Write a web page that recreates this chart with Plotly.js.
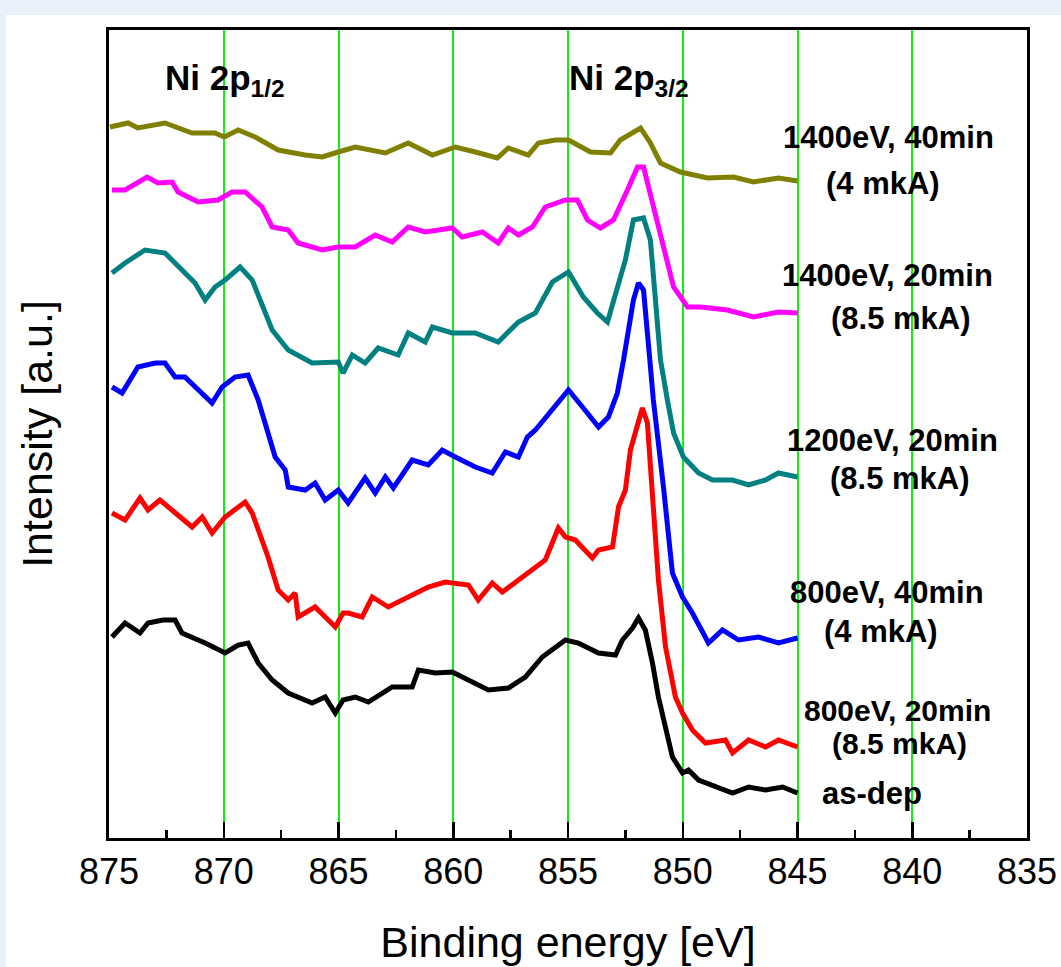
<!DOCTYPE html>
<html>
<head>
<meta charset="utf-8">
<script src="https://cdn.plot.ly/plotly-3.0.1.min.js"></script>
<style>html,body{margin:0;padding:0;background:#e8f0f9;}#chart{width:1061px;height:967px;}</style>
</head>
<body>
<div id="chart"></div>
<script>
// Binding energy [eV] and intensity [a.u.]
const olive_E = [874.96,874.17,873.74,872.56,871.38,870.38,869.98,869.37,868.63,867.63,866.45,865.71,865.01,864.27,862.96,861.96,860.91,859.91,859.04,858.08,857.60,856.73,856.29,855.55,854.98,854.02,853.15,852.72,851.84,851.41,850.97,850.10,848.92,847.79,846.92,845.83,845.00];
const olive_I = [711,715,710,715,705,705,701,708,701,688,683,681,686,691,685,695,683,691,686,680,690,683,695,698,698,686,685,698,710,695,675,666,660,661,656,660,657];

const magenta_E = [874.87,874.30,873.34,872.86,872.25,871.99,871.12,870.25,869.64,869.07,868.33,867.89,867.19,866.76,865.71,865.01,864.27,863.40,862.66,861.96,861.22,860.04,859.61,858.73,858.04,857.60,857.16,856.55,855.99,855.11,854.59,854.15,853.59,853.02,852.41,851.97,851.71,851.28,850.84,850.40,849.79,849.23,848.05,846.92,845.83,845.00];
const magenta_I = [648,648,661,655,656,646,636,638,646,646,631,611,608,595,588,591,591,603,596,611,606,610,601,606,595,610,603,611,631,638,638,618,610,618,648,671,671,631,591,551,531,531,528,521,526,525];

const teal_E = [874.87,874.30,873.43,872.56,871.82,871.25,870.81,870.38,869.94,869.29,868.76,868.28,867.89,867.19,866.15,865.01,864.80,864.40,863.84,863.27,862.40,861.96,861.22,860.91,860.04,859.04,858.04,857.16,856.42,855.68,854.98,854.33,853.72,853.28,852.85,852.50,852.15,851.71,851.41,850.97,850.67,850.40,849.97,849.31,848.70,847.83,847.13,846.39,845.83,845.00];
const teal_I = [565,575,588,585,568,555,538,551,558,571,558,531,508,488,475,476,465,483,475,490,483,505,496,511,505,505,496,516,525,556,566,541,525,516,548,578,618,620,598,478,438,405,381,365,358,358,353,358,365,361];

const blue_E = [874.87,874.43,873.74,872.99,872.56,872.12,871.69,870.94,870.51,870.07,869.51,868.94,868.50,868.20,867.76,867.32,867.19,866.45,866.02,865.58,865.01,864.58,863.84,863.40,862.96,862.61,861.79,861.09,860.48,859.91,859.04,858.30,857.73,857.16,856.77,856.42,855.68,854.98,854.37,853.67,853.24,852.85,852.58,852.41,852.15,851.93,851.71,851.54,851.28,850.84,850.45,850.01,849.58,848.88,848.27,847.57,846.70,845.83,845.00];
const blue_I = [451,445,471,475,475,461,461,445,435,451,461,463,438,415,381,368,351,348,355,338,348,335,360,345,361,350,378,373,388,381,371,365,386,381,401,408,428,448,431,411,421,445,478,505,538,555,548,505,438,351,265,241,225,195,208,198,201,195,200];

const red_E = [874.87,874.30,873.65,873.30,872.78,872.25,871.38,870.94,870.51,869.94,869.07,868.76,868.33,868.07,867.63,867.19,866.89,866.76,866.02,865.14,864.80,864.58,863.97,863.53,862.83,861.96,861.09,860.35,859.34,858.91,858.30,857.86,856.86,855.99,855.42,855.11,854.68,853.94,853.67,853.06,852.80,852.50,852.28,851.97,851.76,851.54,851.32,851.06,850.75,850.32,850.01,849.58,849.01,848.14,847.83,847.13,846.39,845.83,845.00];
const red_I = [325,318,340,328,338,328,311,321,305,321,336,325,298,281,248,238,245,221,231,211,225,225,221,241,231,241,251,256,253,238,255,246,263,278,310,301,298,280,288,291,331,348,388,415,430,415,341,258,191,141,125,108,95,98,85,98,91,98,91];

const black_E = [874.87,874.30,873.65,873.30,872.65,872.12,871.82,870.81,869.94,869.37,868.94,868.50,867.89,867.19,866.15,865.58,865.14,864.80,864.27,863.70,862.66,861.79,861.52,860.78,860.04,859.34,858.47,857.60,856.86,856.12,855.55,855.11,854.55,853.67,852.93,852.63,852.19,851.93,851.63,851.32,851.06,850.75,850.45,850.01,849.75,849.31,848.57,847.83,847.13,846.39,845.65,845.00];
const black_I = [201,215,205,215,218,218,205,195,185,193,195,175,158,145,135,141,125,138,141,136,151,151,168,165,166,158,148,150,161,181,191,198,195,185,183,198,210,220,208,175,141,108,81,65,68,58,51,45,51,48,51,45];

const seriesNames = ["1400eV, 40min (4 mkA)","1400eV, 20min (8.5 mkA)","1200eV, 20min (8.5 mkA)","800eV, 40min (4 mkA)","800eV, 20min (8.5 mkA)","as-dep"];
const seriesColors = ["#808000","#ff00ff","#008080","#0000ff","#ff0000","#000000"];
const seriesE = [olive_E, magenta_E, teal_E, blue_E, red_E, black_E];
const seriesI = [olive_I, magenta_I, teal_I, blue_I, red_I, black_I];

const xTicks = [875,870,865,860,855,850,845,840,835];

const FONT = "Liberation Sans, Arial, Helvetica, sans-serif";

const traces = seriesNames.map((n, i) => ({
  type: "scatter", mode: "lines", name: n,
  x: seriesE[i], y: seriesI[i],
  line: {color: seriesColors[i], width: 5, shape: "linear"},
  hoverinfo: "skip"
}));

const labelFont = {family: FONT, size: 31, color: "#000"};
function lab(text, x, y, size) {
  return {text: "<b>" + text + "</b>", x: x, y: y, xref: "x", yref: "y",
          showarrow: false, xanchor: "center", yanchor: "middle",
          font: size ? {family: FONT, size: size, color: "#000"} : labelFont};
}

const annotations = [
  {text: "<b>Ni 2p<sub>1/2</sub></b>", x: 872.65, y: 758, xref: "x", yref: "y", showarrow: false,
   xanchor: "left", yanchor: "middle", font: {family: FONT, size: 35, color: "#000"}},
  {text: "<b>Ni 2p<sub>3/2</sub></b>", x: 855.03, y: 758, xref: "x", yref: "y", showarrow: false,
   xanchor: "left", yanchor: "middle", font: {family: FONT, size: 35, color: "#000"}},
  lab("1400eV, 40min", 841.03, 701),
  lab("(4 mkA)", 841.29, 655),
  lab("1400eV, 20min", 841.07, 563),
  lab("(8.5 mkA)", 840.50, 520),
  lab("1200eV, 20min", 840.85, 398),
  lab("(8.5 mkA)", 840.55, 360),
  lab("800eV, 40min", 841.12, 246),
  lab("(4 mkA)", 841.38, 207),
  lab("800eV, 20min", 840.64, 128, 30),
  lab("(8.5 mkA)", 840.55, 95, 30),
  lab("as-dep", 841.77, 45)
];

const layout = {
  width: 1061, height: 967,
  paper_bgcolor: "#e8f0f9", plot_bgcolor: "#ffffff",
  margin: {l: 109, r: 34, t: 30, b: 129},
  showlegend: false,
  font: {family: FONT, color: "#000"},
  shapes: [{type: "rect", xref: "paper", yref: "paper", x0: -0.1122, x1: 1.05, y0: -0.2, y1: 1.0186,
            fillcolor: "#ffffff", line: {width: 0}, layer: "below"}],
  xaxis: {
    range: [875, 835], tickmode: "array", tickvals: xTicks, ticktext: xTicks.map(String),
    ticks: "inside", ticklen: 16, tickwidth: 2.5, tickcolor: "#000",
    minor: {dtick: 2.5, tick0: 835, ticks: "inside", ticklen: 8, tickwidth: 2.5, tickcolor: "#000", showgrid: false},
    showgrid: true, gridcolor: "#11ee11", gridwidth: 2,
    showline: true, linecolor: "#000", linewidth: 3, mirror: true, zeroline: false,
    tickfont: {family: FONT, size: 36, color: "#000"},
    title: {text: "Binding energy [eV]", font: {family: FONT, size: 43, color: "#000"}, standoff: 36}
  },
  yaxis: {
    range: [0, 808], showticklabels: false, ticks: "", showgrid: false, zeroline: false,
    showline: true, linecolor: "#000", linewidth: 3, mirror: true,
    title: {text: "Intensity [a.u.]", font: {family: FONT, size: 43, color: "#000"}, standoff: 40}
  },
  annotations: annotations
};

Plotly.newPlot("chart", traces, layout, {displayModeBar: false, staticPlot: true});
</script>
</body>
</html>
